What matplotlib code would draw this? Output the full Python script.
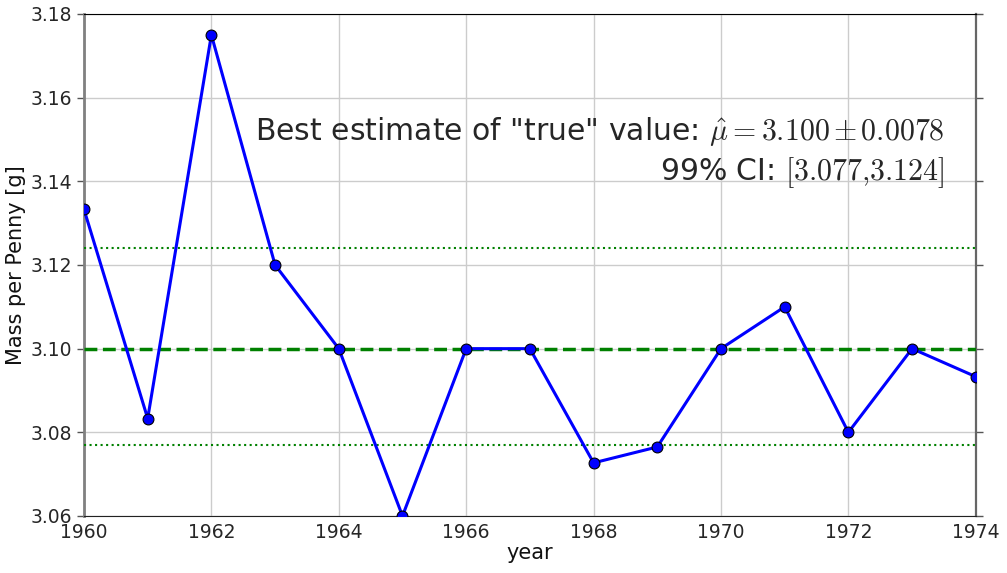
import matplotlib
matplotlib.use('Agg')
import matplotlib.pyplot as pyplot

pyplot.rcParams['mathtext.fontset'] = 'cm'

years = [1960, 1961, 1962, 1963, 1964, 1965, 1966, 1967,
         1968, 1969, 1970, 1971, 1972, 1973, 1974]
mass = [3.1333, 3.0833, 3.175, 3.12, 3.10, 3.06, 3.10, 3.10,
        3.0727, 3.0765, 3.10, 3.11, 3.08, 3.10, 3.0933]

mu = 3.100
sigma = 0.0078
ci_low = 3.077
ci_high = 3.124

fig = pyplot.figure(figsize=(10.07, 5.73), dpi=100)
p1 = fig.add_axes([0.0834, 0.0995, 0.8856, 0.8761])

p1.plot(years, mass, color='b', lw=2.2, marker='o', markersize=7.8,
        markeredgecolor='k', markeredgewidth=0.8, zorder=4)
p1.axhline(mu, color='g', ls='--', lw=2.5, zorder=3)
p1.axhline(ci_low, color='g', ls=':', lw=1.5, zorder=3)
p1.axhline(ci_high, color='g', ls=':', lw=1.5, zorder=3)

p1.set_xlim(1960, 1974)
p1.set_ylim(3.06, 3.18)
p1.set_xticks(range(1960, 1975, 2))
p1.set_yticks([3.06, 3.08, 3.10, 3.12, 3.14, 3.16, 3.18])
p1.set_yticklabels(['%.2f' % v for v in p1.get_yticks()])
p1.grid(True, color='#cccccc', lw=1)
p1.set_axisbelow(True)

p1.set_xlabel('year', fontsize=15, color='#111111', labelpad=1)
p1.set_ylabel('Mass per Penny [g]', fontsize=15, color='#111111', labelpad=3)
p1.tick_params(axis='both', labelsize=13.5, labelcolor='#262626')
p1.tick_params(axis='y', direction='out', length=5, width=1, color='#555555',
               right=True)
p1.tick_params(axis='x', direction='in', length=0, pad=5)

p1.spines['left'].set_color('#808080')
p1.spines['left'].set_linewidth(2)
p1.spines['right'].set_color('#666666')
p1.spines['right'].set_linewidth(1.6)
p1.spines['top'].set_color('k')
p1.spines['bottom'].set_color('#222222')

p1.text(0.965, 0.749,
        'Best estimate of "true" value: $\\hat{\\mu}{=}%.3f\\,{\\pm}\\,%.4f$' % (mu, sigma),
        transform=p1.transAxes, ha='right', va='baseline', fontsize=21.5,
        color='#262626')
p1.text(0.965, 0.669, '99%% CI: $[%.3f{,}%.3f]$' % (ci_low, ci_high),
        transform=p1.transAxes, ha='right', va='baseline', fontsize=21.5,
        color='#262626')

fig.savefig('out.png', dpi=100)
